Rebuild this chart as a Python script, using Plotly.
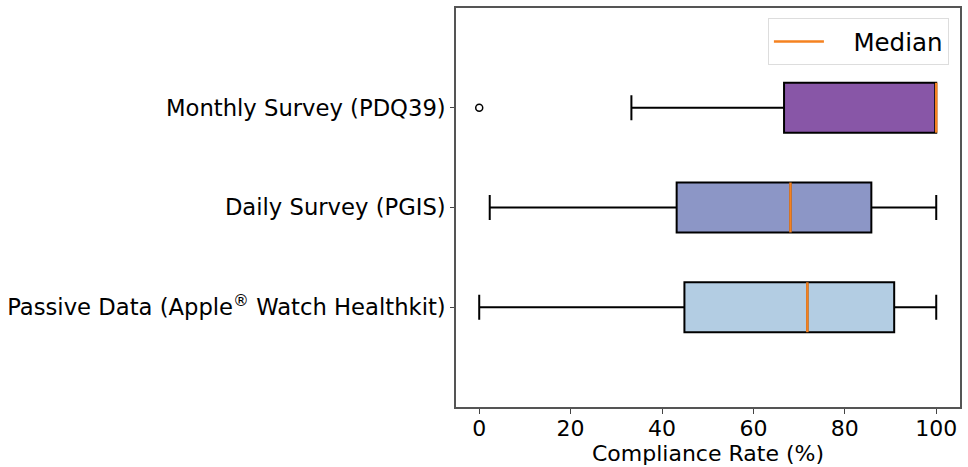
import plotly.graph_objects as go

categories = ["Passive Data (Apple<sup>®</sup> Watch Healthkit)", "Daily Survey (PGIS)", "Monthly Survey (PDQ39)"]
positions = [1, 2, 3]
lower_whisker = [0.0, 2.3, 33.3]
q1_values = [44.9, 43.2, 66.7]
median_values = [71.8, 68.1, 100.0]
q3_values = [90.8, 85.8, 100.0]
upper_whisker = [100.0, 100.0, 100.0]
fill_colors = ["#b3cde3", "#8c96c6", "#8856a7"]
outlier_x = [0.0]
outlier_pos = [3]

MEDIAN_COLOR = "#f58220"
FONT = "DejaVu Sans"

fig = go.Figure()
for i in range(len(categories)):
    fig.add_trace(go.Box(
        y=[positions[i]],
        q1=[q1_values[i]], median=[median_values[i]], q3=[q3_values[i]],
        lowerfence=[lower_whisker[i]], upperfence=[upper_whisker[i]],
        orientation="h", width=0.5, whiskerwidth=0.5,
        fillcolor=fill_colors[i], line=dict(color="black", width=2),
        boxpoints=False, showlegend=False, hoverinfo="skip",
    ))

for i in range(len(categories)):
    fig.add_trace(go.Scatter(
        x=[median_values[i], median_values[i]],
        y=[positions[i] - 0.25, positions[i] + 0.25],
        mode="lines", line=dict(color=MEDIAN_COLOR, width=2.5),
        name="\u2003Median", showlegend=(i == 0), hoverinfo="skip",
    ))

fig.add_trace(go.Scatter(
    x=outlier_x, y=outlier_pos, mode="markers",
    marker=dict(symbol="circle-open", size=7, color="black", line=dict(width=1.5)),
    showlegend=False, hoverinfo="skip",
))

fig.update_layout(
    width=968, height=467,
    margin=dict(l=456, r=6, t=6, b=60),
    paper_bgcolor="white", plot_bgcolor="white",
    font=dict(family=FONT, size=22, color="black"),
    legend=dict(
        x=0.978, y=0.975, xanchor="right", yanchor="top",
        bgcolor="white", bordercolor="#dddddd", borderwidth=1,
        font=dict(size=24.5), itemwidth=50,
    ),
)
fig.update_xaxes(
    range=[-5.08, 105.2], tickvals=[0, 20, 40, 60, 80, 100],
    ticks="outside", ticklen=5, tickcolor="#444", showgrid=False, zeroline=False,
    showline=True, linecolor="#555", linewidth=1.5, mirror=True,
    title=dict(text="Compliance Rate (%)", font=dict(size=22), standoff=0),
    tickfont=dict(size=22), ticklabelstandoff=-4,
)
fig.update_yaxes(
    range=[0, 4], tickvals=positions, ticktext=categories,
    ticks="outside", ticklen=4, tickcolor="#444", showgrid=False, zeroline=False,
    showline=True, linecolor="#555", linewidth=1.5, mirror=True,
    tickfont=dict(size=22.7),
)

fig.write_html(
    "out.html",
    config={"displayModeBar": False},
    post_script="document.body.style.margin='0';document.body.style.padding='0';",
)
